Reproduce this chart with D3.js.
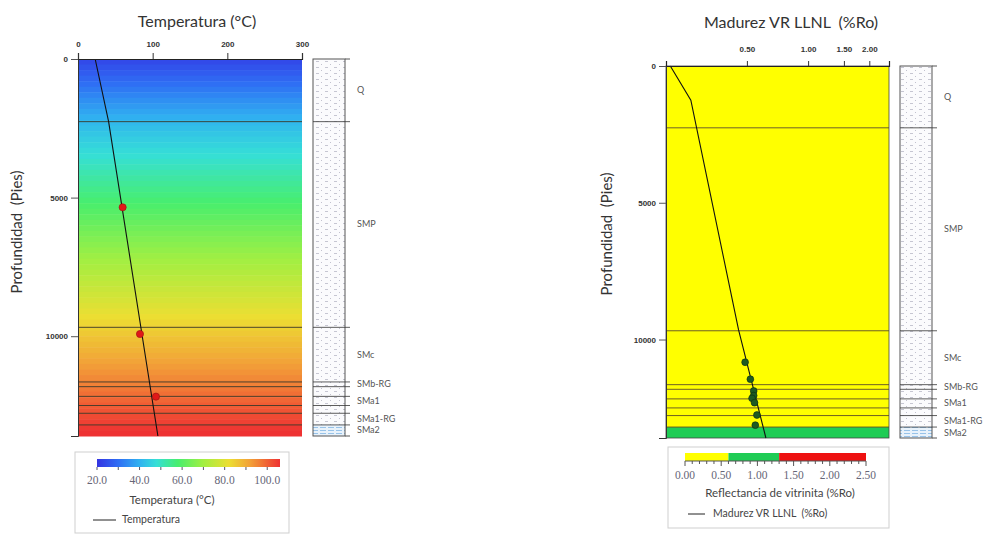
<!DOCTYPE html>
<html><head><meta charset="utf-8">
<script src="https://cdn.jsdelivr.net/npm/d3@7"></script>
<style>
body{margin:0;background:#fff}
svg{display:block;font-family:Lato,"Open Sans",sans-serif}
text.pre{white-space:pre}
</style>
</head><body>
<svg id="chart" width="987" height="535"></svg>
<script>
// Formation tops (ft) and names; empty names are thin unlabelled units
const layerTops  = [0, 2260, 9680, 11650, 11820, 12170, 12500, 12780, 13200];
const layerNames = ["Q", "SMP", "SMc", "SMb-RG", "", "SMa1", "", "SMa1-RG", "SMa2"];
const totalDepth = 13600;
const depthTicks = [0, 5000, 10000];

// Modelled temperature profile and measured temperatures
const tempProfileDepth = [0, 2260, 13600];
const tempProfileValue = [23, 41, 107];
const tempObsDepth = [5350, 9920, 12180];
const tempObsValue = [59.8, 83, 104.4];
const tempTicks = [0, 100, 200, 300];
const tempLegendTicks = [20, 40, 60, 80, 100];

// Modelled vitrinite reflectance (LLNL) and measured %Ro
const roProfileDepth = [0, 1250, 9650, 13600];
const roProfileValue = [0.21, 0.265, 0.455, 0.62];
const roObsDepth = [10830, 11450, 11880, 12050, 12150, 12310, 12760, 13130];
const roObsValue = [0.49, 0.52, 0.54, 0.54, 0.53, 0.545, 0.56, 0.55];
const roTicks = [0.5, 1, 1.5, 2];
const roLegendTicks = [0, 0.5, 1, 1.5, 2, 2.5];
const roWindows = [0.6, 1.3];

const svg = d3.select("#chart");
const defs = svg.append("defs");

// lithology fill patterns
const pat = defs.append("pattern").attr("id", "lith").attr("patternUnits", "userSpaceOnUse")
  .attr("width", 9).attr("height", 6);
pat.append("rect").attr("width", 9).attr("height", 6).attr("fill", "#fbfbfd");
pat.append("line").attr("x1", 1).attr("x2", 4).attr("y1", 1.5).attr("y2", 1.5).attr("stroke", "#b9b9c6").attr("stroke-width", 0.8);
pat.append("circle").attr("cx", 6.5).attr("cy", 4.5).attr("r", 0.5).attr("fill", "#b0b0c0");
const pat2 = defs.append("pattern").attr("id", "lith2").attr("patternUnits", "userSpaceOnUse")
  .attr("width", 8).attr("height", 3);
pat2.append("rect").attr("width", 8).attr("height", 3).attr("fill", "#e8f2fb");
pat2.append("line").attr("x1", 0).attr("x2", 6).attr("y1", 1.5).attr("y2", 1.5).attr("stroke", "#8fbde6").attr("stroke-width", 0.9);

const layers = layerTops.map((t, i) => ({
  top: t, base: i < layerTops.length - 1 ? layerTops[i + 1] : totalDepth, name: layerNames[i]
}));

const tempColor = d3.scaleLinear()
  .domain([20, 30, 40, 48, 58, 70, 82, 92, 106])
  .range(["#3434e2", "#2f6ef4", "#30b2f0", "#36dfd6", "#48ee6e", "#a2ef42", "#ecde32", "#f2a038", "#ee3232"])
  .clamp(true);
const roColor = d3.scaleThreshold().domain(roWindows).range(["#ffff00", "#1fcc55", "#ee1111"]);

function depthAxis(g, y, x0, labelX, labelY) {
  const ax = g.append("g").attr("transform", `translate(${x0},0)`);
  ax.call(d3.axisLeft(y).tickValues(d3.range(0, totalDepth + 1, 1000)).tickSize(4).tickFormat(""));
  ax.call(d3.axisLeft(y).tickValues(depthTicks).tickSize(7).tickFormat(d3.format("d")));
  ax.selectAll("path").attr("stroke", "#333");
  ax.selectAll("line").attr("stroke", "#555");
  ax.selectAll("text").attr("font-size", 8).attr("fill", "#333").attr("font-weight", 600);
  g.append("text").attr("class", "pre").attr("transform", `translate(${labelX},${labelY}) rotate(-90)`)
    .attr("text-anchor", "middle").attr("font-size", 15).attr("fill", "#333")
    .text("Profundidad  (Pies)");
}

function lithology(g, y, x0, w) {
  g.selectAll(".lith").data(layers).join("rect")
    .attr("x", x0).attr("width", w)
    .attr("y", d => y(d.top)).attr("height", d => y(d.base) - y(d.top))
    .attr("fill", d => d.name === "SMa2" ? "url(#lith2)" : "url(#lith)");
  g.append("rect").attr("x", x0).attr("y", y(0)).attr("width", w).attr("height", y(totalDepth) - y(0))
    .attr("fill", "none").attr("stroke", "#555").attr("stroke-width", 1);
  g.selectAll(".lb").data(layers.slice(1)).join("line")
    .attr("x1", x0).attr("x2", x0 + w + 5)
    .attr("y1", d => y(d.top)).attr("y2", d => y(d.top))
    .attr("stroke", "#333").attr("stroke-width", 0.8);
  g.append("line").attr("x1", x0 + w).attr("x2", x0 + w + 5).attr("y1", y(0)).attr("y2", y(0)).attr("stroke", "#555");
  g.append("line").attr("x1", x0 + w).attr("x2", x0 + w + 5).attr("y1", y(totalDepth)).attr("y2", y(totalDepth)).attr("stroke", "#555");
  g.selectAll(".ln").data(layers.filter(d => d.name)).join("text")
    .attr("x", x0 + w + 12).attr("y", d => (y(d.top) + y(d.base)) / 2 + 3)
    .attr("font-size", 9).attr("fill", "#555").text(d => d.name);
}

function layerLines(g, y, x0, x1, color) {
  g.selectAll(".bl").data(layers.slice(1)).join("line")
    .attr("x1", x0).attr("x2", x1)
    .attr("y1", d => y(d.top)).attr("y2", d => y(d.top))
    .attr("stroke", color).attr("stroke-width", 0.9);
}

/* ---------- Temperature panel ---------- */
{
  const g = svg.append("g");
  const y = d3.scaleLinear().domain([0, totalDepth]).range([59, 436]);
  const x = d3.scaleLinear().domain([0, 300]).range([78, 302]);
  const tempAt = d3.scaleLinear().domain(tempProfileDepth).range(tempProfileValue);

  const step = 200;
  g.selectAll(".band").data(d3.range(0, totalDepth, step)).join("rect")
    .attr("x", x(0)).attr("width", x(300) - x(0))
    .attr("y", d => y(d)).attr("height", d => y(Math.min(d + step, totalDepth)) - y(d) + 0.5)
    .attr("fill", d => tempColor(tempAt(d + step / 2)));

  layerLines(g, y, x(0), x(300), "#3a3a2a");

  const line = d3.line().x(d => x(d[1])).y(d => y(d[0]));
  g.append("path").datum(d3.zip(tempProfileDepth, tempProfileValue))
    .attr("d", line).attr("fill", "none").attr("stroke", "#111").attr("stroke-width", 1.1);

  g.selectAll(".obs").data(d3.zip(tempObsDepth, tempObsValue)).join("circle")
    .attr("cx", d => x(d[1])).attr("cy", d => y(d[0])).attr("r", 3.6)
    .attr("fill", "#e01818").attr("stroke", "#9a1010").attr("stroke-width", 0.6);

  const top = g.append("g").attr("transform", `translate(0,${y(0)})`);
  top.call(d3.axisTop(x).tickValues(d3.range(0, 301, 10)).tickSize(3).tickFormat(""));
  top.call(d3.axisTop(x).tickValues(tempTicks).tickSize(6).tickPadding(6).tickFormat(d3.format("d")));
  top.selectAll("path").attr("stroke", "#222").attr("stroke-width", 1.2);
  top.selectAll("line").attr("stroke", "#333");
  top.selectAll("text").attr("font-size", 8).attr("fill", "#333").attr("font-weight", 600);

  depthAxis(g, y, x(0), 22, 232);

  g.append("text").attr("x", 197).attr("y", 27).attr("text-anchor", "middle")
    .attr("font-size", 16).attr("fill", "#333").text("Temperatura (°C)");

  lithology(g, y, 313, 32);

  // legend
  const lg = svg.append("g");
  lg.append("rect").attr("x", 75).attr("y", 452).attr("width", 214).attr("height", 81)
    .attr("fill", "#fff").attr("stroke", "#cfcfcf");
  const lx = d3.scaleLinear().domain([20, 106]).range([97, 280]);
  const grad = defs.append("linearGradient").attr("id", "tempGrad");
  d3.range(20, 106.01, 2).forEach(v => grad.append("stop")
    .attr("offset", (v - 20) / 86).attr("stop-color", tempColor(v)));
  lg.append("rect").attr("x", 97).attr("y", 459).attr("width", 183).attr("height", 8).attr("fill", "url(#tempGrad)");
  lg.selectAll(".lt").data(d3.range(20, 101, 10)).join("line")
    .attr("x1", d => lx(d)).attr("x2", d => lx(d)).attr("y1", 467).attr("y2", 470)
    .attr("stroke", "#556");
  lg.selectAll(".ll").data(tempLegendTicks).join("text")
    .attr("x", d => lx(d)).attr("y", 484).attr("text-anchor", "middle")
    .attr("font-family", "'Liberation Serif',serif").attr("font-size", 11.5).attr("fill", "#667")
    .text(d3.format(".1f"));
  lg.append("text").attr("x", 172).attr("y", 504).attr("text-anchor", "middle")
    .attr("font-size", 11.5).attr("fill", "#444").text("Temperatura (°C)");
  lg.append("line").attr("x1", 93).attr("x2", 116).attr("y1", 520).attr("y2", 520).attr("stroke", "#222");
  lg.append("text").attr("x", 122).attr("y", 523).attr("font-size", 10.5).attr("fill", "#444").text("Temperatura");
}

/* ---------- Maturity panel ---------- */
{
  const g = svg.append("g");
  const y = d3.scaleLinear().domain([0, totalDepth]).range([66, 438]);
  const x = d3.scaleLog().domain([0.2, 2.5]).range([666, 889]);
  const roAt = d3.scaleLinear().domain(roProfileDepth).range(roProfileValue);

  g.selectAll(".lay").data(layers).join("rect")
    .attr("x", x(0.2)).attr("width", x(2.5) - x(0.2))
    .attr("y", d => y(d.top)).attr("height", d => y(d.base) - y(d.top))
    .attr("fill", d => roColor(roAt((d.top + d.base) / 2)));

  layerLines(g, y, x(0.2), x(2.5), "#5e4e18");

  g.append("rect").attr("x", x(0.2)).attr("y", y(0)).attr("width", x(2.5) - x(0.2))
    .attr("height", y(totalDepth) - y(0)).attr("fill", "none").attr("stroke", "#444").attr("stroke-width", 0.8);

  const line = d3.line().x(d => x(d[1])).y(d => y(d[0]));
  g.append("path").datum(d3.zip(roProfileDepth, roProfileValue))
    .attr("d", line).attr("fill", "none").attr("stroke", "#111").attr("stroke-width", 1.1);

  g.selectAll(".obs").data(d3.zip(roObsDepth, roObsValue)).join("circle")
    .attr("cx", d => x(d[1])).attr("cy", d => y(d[0])).attr("r", 3.4)
    .attr("fill", "#1e5a22").attr("stroke", "#0c2e10").attr("stroke-width", 0.6);

  const minor = d3.range(2, 26).map(v => v / 10);
  const top = g.append("g").attr("transform", `translate(0,${y(0)})`);
  top.call(d3.axisTop(x).tickValues(minor).tickSize(3).tickFormat(""));
  top.call(d3.axisTop(x).tickValues(roTicks).tickSize(5).tickPadding(9).tickFormat(d3.format(".2f")));
  top.selectAll("path").attr("stroke", "#222").attr("stroke-width", 1.2);
  top.selectAll("line").attr("stroke", "#333");
  top.selectAll("text").attr("font-size", 8).attr("fill", "#333").attr("font-weight", 600);

  depthAxis(g, y, x(0.2), 612, 234);

  g.append("text").attr("class", "pre").attr("x", 791).attr("y", 28).attr("text-anchor", "middle")
    .attr("font-size", 16).attr("fill", "#333").text("Madurez VR LLNL  (%Ro)");

  lithology(g, y, 900, 32);

  // legend
  const lg = svg.append("g");
  lg.append("rect").attr("x", 668).attr("y", 447).attr("width", 221).attr("height", 81)
    .attr("fill", "#fff").attr("stroke", "#cfcfcf");
  const lx = d3.scaleLinear().domain([0, 2.5]).range([685, 866]);
  const bands = [[0, roWindows[0]], [roWindows[0], roWindows[1]], [roWindows[1], 2.5]];
  lg.selectAll(".lb").data(bands).join("rect")
    .attr("x", d => lx(d[0])).attr("width", d => lx(d[1]) - lx(d[0]))
    .attr("y", 453).attr("height", 8).attr("fill", d => roColor((d[0] + d[1]) / 2));
  lg.selectAll(".lt").data(d3.range(0, 2.51, 0.1)).join("line")
    .attr("x1", d => lx(d)).attr("x2", d => lx(d)).attr("y1", 461).attr("y2", d => Math.abs(d * 2 - Math.round(d * 2)) < 1e-6 ? 466 : 464)
    .attr("stroke", "#555");
  lg.append("line").attr("x1", lx(0)).attr("x2", lx(2.5)).attr("y1", 461).attr("y2", 461).attr("stroke", "#555");
  lg.selectAll(".ll").data(roLegendTicks).join("text")
    .attr("x", d => lx(d)).attr("y", 479).attr("text-anchor", "middle")
    .attr("font-family", "'Liberation Serif',serif").attr("font-size", 11.5).attr("fill", "#667")
    .text(d3.format(".2f"));
  lg.append("text").attr("x", 780).attr("y", 497).attr("text-anchor", "middle")
    .attr("font-size", 11.5).attr("fill", "#444").text("Reflectancia de vitrinita (%Ro)");
  lg.append("line").attr("x1", 688).attr("x2", 705).attr("y1", 514).attr("y2", 514).attr("stroke", "#222");
  lg.append("text").attr("class", "pre").attr("x", 713).attr("y", 517).attr("font-size", 10.5).attr("fill", "#444")
    .text("Madurez VR LLNL  (%Ro)");
}
</script>
</body></html>
